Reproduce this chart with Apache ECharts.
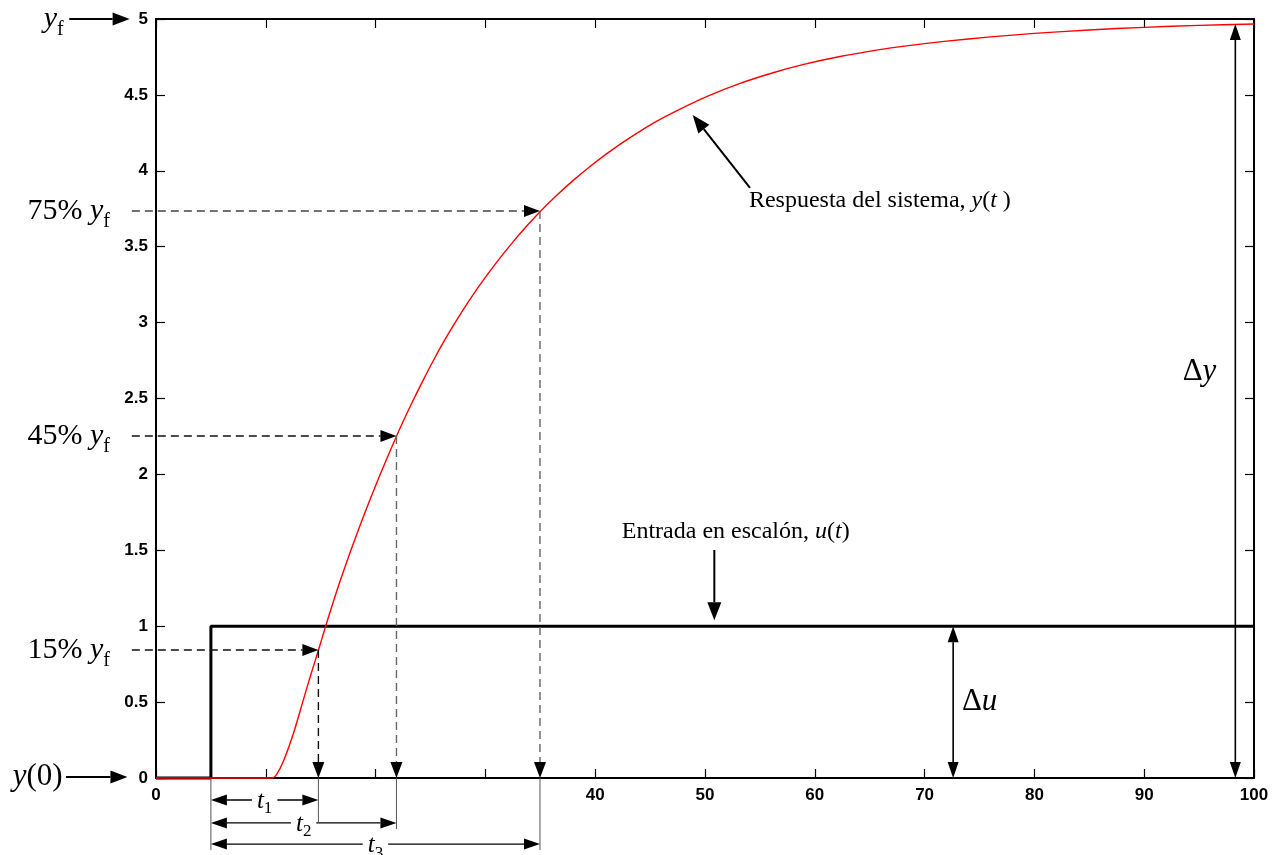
<!DOCTYPE html>
<html><head><meta charset="utf-8">
<script src="https://cdn.jsdelivr.net/npm/echarts@6/dist/echarts.min.js"></script>
<style>html,body{margin:0;padding:0;background:#fff}#c{width:1281px;height:855px}</style>
</head><body><div id="c"></div>
<script>
// ---- data ----
const timeValues = [0, 10.6, 11.0, 11.6, 12.5, 13.4, 14.1, 14.8, 15.45, 16.1, 16.8, 17.7, 18.6, 19.3, 20.1, 21.0, 21.9, 22.6, 23.4, 24.3, 25.3, 26.3, 27.4, 28.4, 29.5, 31.0, 32.5, 33.7, 35.0, 36.5, 38.0, 39.5, 41.0, 43.0, 45.3, 47.5, 50.2, 53.0, 56.2, 59.0, 62.3, 65.9, 68.0, 72.0, 76.0, 80.0, 85.0, 90.0, 95.0, 100];
const responseValues = [0, 0, 0.025, 0.11, 0.29, 0.51, 0.68, 0.843, 1.0, 1.15, 1.304, 1.49, 1.666, 1.798, 1.944, 2.10, 2.251, 2.363, 2.485, 2.616, 2.755, 2.886, 3.018, 3.131, 3.248, 3.395, 3.53, 3.631, 3.732, 3.839, 3.937, 4.027, 4.11, 4.21, 4.314, 4.398, 4.49, 4.571, 4.646, 4.701, 4.753, 4.798, 4.82, 4.854, 4.882, 4.905, 4.928, 4.945, 4.958, 4.967];
const stepTimes = [0, 5, 5, 100];
const stepValues = [0, 0, 1, 1];
const xShownLabels = [0, 40, 50, 60, 70, 80, 90, 100];
const yTickValues = [0, 0.5, 1, 1.5, 2, 2.5, 3, 3.5, 4, 4.5, 5];

// annotation anchors (data units)
const pctLabels = ['15% ', '45% ', '75% '];
const pctTimes = [14.79, 21.9, 34.97];
const pctValues = [0.843, 2.253, 3.735];
const bracketLevels = [-0.145, -0.296, -0.435];
const bracketEnds = [-0.29, -0.336, -0.474];
const stepTime = 5;
const finalValue = 4.967;
const stepSize = 1;
const deltaYTime = 98.3;
const deltaUTime = 72.6;

const chart = echarts.init(document.getElementById('c'), null, {renderer: 'canvas'});
const SANS = "'Liberation Sans', Arial, sans-serif";
const SERIF = "'Liberation Serif', 'Times New Roman', serif";

const axisLine = {show: true, onZero: false, lineStyle: {color: '#000', width: 2}};
const tick = {show: true, inside: true, length: 9, lineStyle: {color: '#000', width: 1.2}};
const tickLabel = {color: '#000', fontFamily: SANS, fontWeight: 'bold', fontSize: 17};

const option = {
  animation: false,
  backgroundColor: '#fff',
  grid: {left: 156, right: 27, top: 19, bottom: 77},
  xAxis: [
    {type: 'value', min: 0, max: 100, interval: 10, position: 'bottom', axisLine, axisTick: tick,
     splitLine: {show: false},
     axisLabel: Object.assign({margin: 9, formatter: v => xShownLabels.includes(v) ? String(v) : ''}, tickLabel)},
    {type: 'value', min: 0, max: 100, interval: 10, position: 'top', axisLine, axisTick: tick,
     splitLine: {show: false}, axisLabel: {show: false}}
  ],
  yAxis: [
    {type: 'value', min: 0, max: 5, interval: 0.5, position: 'left', axisLine, axisTick: tick,
     splitLine: {show: false},
     axisLabel: Object.assign({margin: 8, formatter: v => yTickValues.includes(v) ? String(v) : ''}, tickLabel)},
    {type: 'value', min: 0, max: 5, interval: 0.5, position: 'right', axisLine, axisTick: tick,
     splitLine: {show: false}, axisLabel: {show: false}}
  ],
  series: [
    {type: 'line', name: 'u(t)', data: stepTimes.map((t, i) => [t, stepValues[i]]),
     showSymbol: false, symbol: 'none', lineStyle: {color: '#000', width: 3}, z: 3, clip: false},
    {type: 'line', name: 'y(t)', data: timeValues.map((t, i) => [t, responseValues[i]]),
     showSymbol: false, symbol: 'none', smooth: 0.3,
     lineStyle: {color: '#ff0000', width: 1.4}, z: 5, clip: false}
  ]
};
chart.setOption(option);

const px = (t, v) => chart.convertToPixel({gridIndex: 0}, [t, v]);
const g = [];
function seg(p1, p2, stroke, width, dash) {
  g.push({type: 'line', z: 50, shape: {x1: p1[0], y1: p1[1], x2: p2[0], y2: p2[1]},
    style: {stroke, lineWidth: width, lineDash: dash || null}});
}
function head(tip, from, len, half, color) {
  const dx = tip[0] - from[0], dy = tip[1] - from[1];
  const d = Math.hypot(dx, dy) || 1;
  const ux = dx / d, uy = dy / d;
  const bx = tip[0] - ux * len, by = tip[1] - uy * len;
  g.push({type: 'polygon', z: 51, shape: {points: [[tip[0], tip[1]], [bx - uy * half, by + ux * half], [bx + uy * half, by - ux * half]]},
    style: {fill: color}});
  return [bx, by];
}
function arrow(from, tip, color, width, dash, len, half, headColor) {
  const base = head(tip, from, len || 15, half || 5.5, headColor || color);
  seg(from, base, color, width, dash);
}
function dblArrow(a, b, color, width) {
  const ba = head(a, b, 16, 5.5, color);
  const bb = head(b, a, 16, 5.5, color);
  seg(ba, bb, color, width);
}
function text(p, str, rich, align, valign, extra) {
  g.push({type: 'text', z: 60, x: p[0], y: p[1],
    style: Object.assign({text: str, rich, align, textAlign: align, verticalAlign: valign, textVerticalAlign: valign}, extra || {})});
}

const richBig = {
  n: {fontFamily: SERIF, fontSize: 30, lineHeight: 30, verticalAlign: 'top', color: '#000'},
  i: {fontFamily: SERIF, fontSize: 30, lineHeight: 30, fontStyle: 'italic', verticalAlign: 'top', color: '#000'},
  s: {fontFamily: SERIF, fontSize: 20, lineHeight: 20, padding: [16, 0, 0, 0], verticalAlign: 'top', color: '#000'}
};
const richMid = {
  n: {fontFamily: SERIF, fontSize: 24, lineHeight: 26, color: '#000'},
  i: {fontFamily: SERIF, fontSize: 24, lineHeight: 26, fontStyle: 'italic', color: '#000'}
};
const richT = {
  i: {fontFamily: SERIF, fontSize: 25, lineHeight: 25, fontStyle: 'italic', verticalAlign: 'top', color: '#000'},
  s: {fontFamily: SERIF, fontSize: 17, lineHeight: 17, padding: [12, 0, 0, 0], verticalAlign: 'top', color: '#000'}
};

const dashLeft = -2.2;
// percentage markers
for (let k = 0; k < 3; k++) {
  const pt = px(pctTimes[k], pctValues[k]);
  const colH = k === 2 ? '#444' : '#111';
  const colV = k === 0 ? '#111' : '#666';
  arrow(px(dashLeft, pctValues[k]), pt, colH, 1.4, [8, 5], 16, 6, '#000');
  arrow(pt, px(pctTimes[k], 0), colV, 1.4, [8, 5], 16, 6, '#000');
  text(px(-4.2, pctValues[k]), '{n|' + pctLabels[k] + '}{i|y}{s|f}', richBig, 'right', 'middle');
  seg(px(pctTimes[k], 0), px(pctTimes[k], bracketEnds[k]), '#555', 1);
}
seg(px(stepTime, 0), px(stepTime, bracketEnds[2]), '#555', 1);
// time brackets
const tNames = ['1', '2', '3'];
for (let k = 0; k < 3; k++) {
  const a = px(stepTime, bracketLevels[k]);
  const b = px(pctTimes[k], bracketLevels[k]);
  dblArrow(a, b, '#000', 1.3);
  text([(a[0] + b[0]) / 2, a[1] + 1], '{i|t}{s|' + tNames[k] + '}', richT, 'center', 'middle',
    {backgroundColor: '#fff', padding: [0, 5, 0, 5]});
}
// left axis indicators
arrow(px(-7.9, 5), px(-2.4, 5), '#000', 2, null, 17, 6.5);
text(px(-8.4, 5), '{i|y}{s|f}', richBig, 'right', 'middle');
arrow(px(-8.2, 0.007), px(-2.6, 0.007), '#000', 2, null, 17, 6.5);
text(px(-8.5, 0.007), '{i|y}{n|(0)}', {
  n: {fontFamily: SERIF, fontSize: 31, color: '#000'},
  i: {fontFamily: SERIF, fontSize: 31, fontStyle: 'italic', color: '#000'}}, 'right', 'middle');
// delta arrows
dblArrow(px(deltaYTime, 0), px(deltaYTime, finalValue), '#000', 1.6);
dblArrow(px(deltaUTime, 0), px(deltaUTime, stepSize), '#000', 1.6);
const deltaRich = {
  n: {fontFamily: SERIF, fontSize: 31, color: '#000'},
  i: {fontFamily: SERIF, fontSize: 31, fontStyle: 'italic', color: '#000'}};
text(px(93.5, 2.675), '{n|Δ}{i|y}', deltaRich, 'left', 'middle');
text(px(73.4, 0.5), '{n|Δ}{i|u}', deltaRich, 'left', 'middle');
// series callouts
arrow(px(54.1, 3.887), px(48.88, 4.368), '#000', 2, null, 18, 7);
text(px(54.0, 3.80), '{n|Respuesta del sistema, }{i|y}{n|(}{i|t}{n| )}', richMid, 'left', 'middle');
arrow(px(50.85, 1.502), px(50.85, 1.04), '#000', 2, null, 18, 7);
text(px(52.8, 1.623), '{n|Entrada en escalón, }{i|u}{n|(}{i|t}{n|)}', richMid, 'center', 'middle');

chart.setOption({graphic: {elements: g}});
</script>
</body></html>
